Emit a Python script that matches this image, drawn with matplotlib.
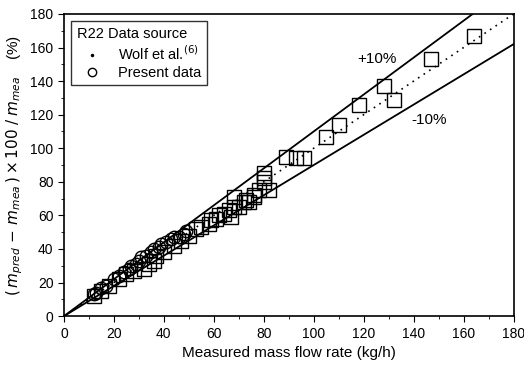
import numpy as np
import matplotlib.pyplot as plt
from matplotlib.lines import Line2D

plt.rcParams['font.family'] = ['Liberation Sans', 'DejaVu Sans']

# Present data (measured, predicted deviation)
present_x = [12, 13, 15, 17, 20, 22, 24, 26, 27, 29, 30, 31, 33, 35, 36, 38, 39, 41, 43, 44, 46, 48, 49]
present_y = [13, 14, 17, 18, 22, 24, 26, 28, 30, 31, 33, 35, 36, 38, 40, 41, 43, 44, 46, 47, 47, 49, 51]

# Wolf et al. data
wolf_x = [12, 15, 18, 22, 25, 28, 32, 34, 36, 37, 40, 44, 47, 50, 53, 55, 58, 59, 61, 62, 64, 66,
          67, 68, 68, 70, 72, 73, 74, 76, 76, 78, 80, 80, 80, 82, 89, 93, 96, 105, 110, 118, 128,
          132, 147, 164]
wolf_y = [12, 15, 18, 22, 25, 27, 28, 31, 33, 36, 38, 42, 45, 48, 52, 53, 55, 57, 58, 60, 61, 63,
          59, 65, 71, 65, 68, 69, 68, 71, 72, 75, 80, 82, 85, 75, 95, 94, 94, 107, 114, 126, 137,
          129, 153, 167]

fig = plt.figure(figsize=(5.24, 3.68), dpi=100)
ax = fig.add_axes([0.122, 0.141, 0.858, 0.821])

xx = np.array([0, 180])
ax.plot(xx, 1.1 * xx, color='black', lw=1.3)
ax.plot(xx, 0.9 * xx, color='black', lw=1.3)
ax.plot(xx, xx, color='black', lw=1.2, ls=(0, (1, 3)))

ax.plot(wolf_x, wolf_y, ls='none', marker='s', ms=9.5, mfc='none', mec='black', mew=1.0)
ax.plot(present_x, present_y, ls='none', marker='o', ms=9, mfc='none', mec='black', mew=1.0)

ax.text(117.5, 151, '+10%', fontsize=11)
ax.text(139, 114.5, '-10%', fontsize=11)

ax.set_xlim(0, 180)
ax.set_ylim(0, 180)
ax.set_xticks(np.arange(0, 181, 20))
ax.set_yticks(np.arange(0, 181, 20))
ax.set_xticks(np.arange(0, 181, 10), minor=True)
ax.set_yticks(np.arange(0, 181, 10), minor=True)
ax.tick_params(which='major', direction='out', length=4, labelsize=10)
ax.tick_params(which='minor', direction='out', length=2)
for s in ax.spines.values():
    s.set_linewidth(1.2)

ax.set_xlabel('Measured mass flow rate (kg/h)', fontsize=11)
ax.set_ylabel(r'$(\,m_{pred}\,-\,m_{mea}\,)\times 100\;/\;m_{mea}$    (%)', fontsize=11)

handles = [
    Line2D([], [], ls='none', marker='.', ms=3, color='black'),
    Line2D([], [], ls='none', marker='o', ms=6, mfc='none', mec='black'),
]
leg = ax.legend(handles, [r'Wolf et al.$^{(6)}$', 'Present data'], title='R22 Data source',
                loc='upper left', fontsize=10.5, title_fontsize=10.5, alignment='left',
                frameon=True, fancybox=False, edgecolor='black', handlelength=2.0,
                borderaxespad=0.5, labelspacing=0.2)
leg.get_frame().set_linewidth(1.0)

fig.savefig('out.png', dpi=100)
